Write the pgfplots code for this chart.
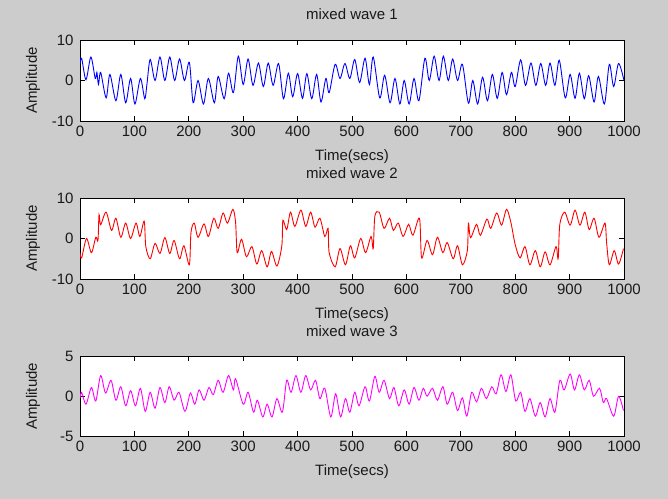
\documentclass[border=0pt]{standalone}
\usepackage{fontspec}
\setmainfont{Liberation Sans}
\usepackage{pgfplots}
\pgfplotsset{compat=1.18}
\definecolor{figgray}{RGB}{204,204,204}
\definecolor{mblue}{RGB}{0,0,255}
\definecolor{mred}{RGB}{255,0,0}
\definecolor{mmag}{RGB}{255,0,255}
\pgfplotsset{mw/.style={
 scale only axis, width=544bp, anchor=south west,
 xmin=0, xmax=1000, xtick={0,100,...,1000},
 axis background/.style={fill=white},
 axis line style={black, line width=0.8bp},
 major tick length=5bp, tick style={black, line width=0.8bp},
 tick align=inside,
 /pgf/number format/assume math mode=true,
 /pgf/number format/1000 sep={},
 tick label style={font=\fontsize{15bp}{18bp}\selectfont, text=black!90},
 label style={font=\fontsize{15bp}{18bp}\selectfont, text=black!90},
 title style={font=\fontsize{15bp}{18bp}\selectfont, text=black!90},
 xticklabel style={yshift=-2bp},
 yticklabel style={xshift=-3bp},
 scaled ticks=false,
 xlabel={Time(secs)}, ylabel={Amplitude},
 xlabel style={at={(axis description cs:0.5,0)}, anchor=center, yshift=-36bp},
 ylabel style={at={(axis description cs:-0.0864,0.5)}, anchor=center},
 title style={at={(axis description cs:0.5,1)}, anchor=center, yshift=19.5bp},
 every axis plot/.append style={line width=0.9bp, smooth, tension=0.5},
}}
\begin{document}
\begin{tikzpicture}
\fill[figgray] (0bp,0bp) rectangle (668bp,499bp);
\useasboundingbox (0bp,0bp) rectangle (668bp,499bp);
% ---------- wave 1 ----------
\begin{axis}[mw, at={(80bp,378bp)}, height=81bp, ymin=-10, ymax=10, ytick={-10,0,10}, title={mixed wave 1}]
\addplot[mblue] coordinates {
(0,4)(3,5.5)(11,0.2)(20,5.8)(28,0.5)(31,2)(34,-1)(38,2)(48,-4.3)(55,1.5)(66,-5)(75,1.5)(84,-5.5)(93,0.5)(101,-5.8)(111,0.5)(119,-4.5)(123,-1)(129,5.2)(138,0)(147,5.8)(156,0)(165,5.8)(174,0)(183,5.3)(192,0)(201,4.5)(208,-5.5)(217,0)(227,-5.8)(236,0.5)(247,-5.5)(254,1)(265,-4.5)(273,1.8)(282,-3)(291,6)(300,-1)(309,5.3)(318,-1.2)(328,4.3)(337,-1.5)(346,4.3)(355,-1.2)(365,4.2)(374,-4.5)(383,1.8)(391,-4)(400,1.7)(409,-4.4)(417,1.7)(426,-4.5)(435,1.5)(443,-5.3)(452,0.5)(458,-3)(469,4)(478,0.5)(487,4.2)(496,0.5)(505,5.2)(514,-0.5)(524,5.5)(532,-1)(539,5.8)(551,-4.3)(560,1.3)(570,-5.5)(579,0.5)(588,-5.8)(596,0)(605,-5.8)(614,0.5)(623,-5)(634,5.5)(642,0)(651,6)(660,0)(668,6)(677,0)(685,5.3)(694,0)(703,4)(714,-5.6)(722,0)(731,-5.8)(740,0.8)(749,-5)(758,1.5)(767,-4.4)(776,2)(784,-3.5)(793,2)(800,-1.5)(810,5.1)(819,-1.2)(829,4.3)(838,-1.2)(847,4.2)(856,-1.2)(864,4.3)(873,-1.2)(881,5)(892,-4.3)(901,1.5)(910,-4.4)(918,1.8)(927,-4.5)(935,1.2)(945,-5.3)(953,1)(964,-5.8)(973,4)(981,-1.5)(990,4.2)(1000,0)
};
\end{axis}
% ---------- wave 2 ----------
\begin{axis}[mw, at={(80bp,220bp)}, height=81bp, ymin=-10, ymax=10, ytick={-10,0,10}, title={mixed wave 2}, title style={yshift=-1bp}]
\addplot[mred] coordinates {
(0,-3.5)(3,-4.8)(12,0)(21,-3.5)(29,0.3)(33,-0.5)(35,5.9)(38,3.4)(48,6.5)(58,2)(66,5)(75,0.3)(84,3.8)(93,0)(103,3.8)(110,0.5)(118,4.3)(121,-2)(129,-5)(138,-1.2)(147,-3.7)(156,0.2)(165,-3.7)(173,-0.5)(183,-5)(191,-1.8)(201,-6.5)(204,1.5)(210,3.8)(217,0.3)(228,3.6)(236,0.5)(246,5)(254,2.5)(263,6.3)(271,3.8)(281,7.2)(286,4)(289,-3.5)(297,-0.2)(306,-4.5)(316,-2)(325,-6.3)(334,-3)(344,-7)(352,-3.2)(362,-6.8)(371,-1.8)(373,4.5)(380,2.2)(387,6.5)(395,3)(406,7)(415,3)(424,6.5)(432,2.8)(441,5)(450,0.5)(456,2.5)(458,-3.5)(469,-7)(478,-2.5)(488,-6.5)(497,-1.8)(505,-4.8)(516,0)(525,-3.5)(535,0.5)(539,-2.5)(542,5.5)(550,6.5)(559,2.5)(569,5)(576,2)(585,3.8)(594,0.5)(604,3.5)(612,0.8)(624,5)(628,-4.8)(638,-0.5)(648,-4)(657,0.3)(667,-3.5)(675,-1)(686,-5)(694,-1.8)(703,-6.5)(712,-3)(714,3.8)(718,0.2)(729,3.5)(736,0.8)(748,4.8)(755,2.5)(766,6.3)(775,3.3)(784,7.2)(792,4)(800,-1.5)(809,-4.8)(818,-2)(827,-6.5)(837,-3)(846,-7)(855,-3.3)(864,-6.5)(875,-2)(879,-5)(882,3.5)(891,6.5)(901,3.3)(910,7)(919,3.3)(928,6.5)(936,2.2)(945,5)(954,0.3)(965,3.8)(968,-1)(973,-6.5)(982,-3)(990,-6.3)(999,-2.5)
};
\end{axis}
% ---------- wave 3 ----------
\begin{axis}[mw, at={(80bp,63bp)}, height=79.5bp, ymin=-5, ymax=5, ytick={-5,0,5}, title={mixed wave 3}]
\addplot[mmag] coordinates {
(0,-0.25)(3,0.5)(11,-1)(21,1.1)(29,-0.6)(38,2.6)(47,0.4)(57,2)(66,-0.5)(75,1.2)(84,-1.2)(93,0.7)(102,-1.2)(111,1)(120,-1.9)(129,0.5)(138,-1.5)(147,1.1)(156,-0.8)(164,1.2)(173,-0.5)(182,0.5)(193,-1.9)(203,0.4)(211,-1)(219,0.8)(228,-0.5)(237,1.1)(245,0.2)(254,2)(263,0.5)(273,2.6)(282,0.8)(286,2.2)(300,-1)(309,0.5)(319,-2)(326,-0.5)(336,-2.6)(344,-1)(353,-2.6)(362,-0.3)(372,-2)(380,2)(388,0.5)(397,2.6)(406,0.5)(415,2.6)(424,0.8)(433,2)(441,-0.3)(450,1)(461,-2.6)(470,0.3)(479,-2.6)(488,-0.3)(496,-2)(505,0.5)(513,-1.2)(524,1.2)(532,-0.6)(542,2.5)(550,0.5)(559,2)(569,-0.3)(577,1.1)(586,-1.2)(596,0.8)(605,-1)(614,1.1)(623,-0.5)(631,1)(638,0)(648,1)(657,-0.5)(667,1.2)(675,-1)(685,0.5)(694,-1.8)(703,-0.2)(711,-2.5)(720,0.5)(729,-0.7)(738,1)(747,-0.3)(757,1.2)(765,0.3)(774,2.7)(783,0.6)(792,2.7)(801,-0.6)(810,0.5)(818,-1.9)(827,-0.3)(837,-2.5)(846,-0.8)(855,-2.6)(864,-0.3)(873,-2)(882,2)(890,0.8)(901,2.8)(909,0.8)(918,2.7)(927,0.8)(936,2)(944,0)(955,1)(962,-0.8)(968,-0.3)(981,-2.5)(990,0)(999,-1.8)
};
\end{axis}
\end{tikzpicture}
\end{document}
